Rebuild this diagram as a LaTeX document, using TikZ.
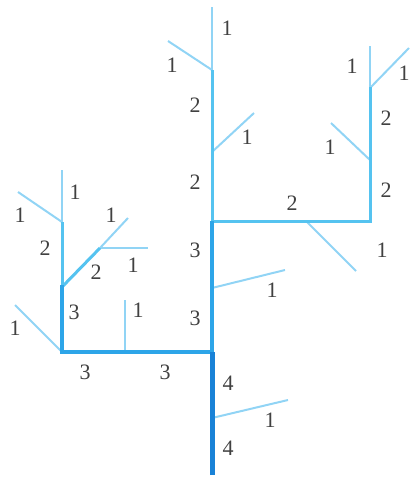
\documentclass[tikz,border=0pt]{standalone}
\usepackage{fontspec}
\setmainfont{Liberation Serif}
\begin{document}
\begin{tikzpicture}[x=1pt,y=-1pt,
  oa/.style={draw={rgb,255:red,145;green,212;blue,245},line width=2pt},
  ob/.style={draw={rgb,255:red,85;green,195;blue,240},line width=3pt},
  oc/.style={draw={rgb,255:red,45;green,165;blue,232},line width=3.8pt},
  od/.style={draw={rgb,255:red,25;green,130;blue,215},line width=5pt},
  lbl/.style={text={rgb,255:red,65;green,65;blue,65},font=\fontsize{22}{22}\selectfont,inner sep=0pt}]
\useasboundingbox (0,0) rectangle (411,480);
% coordinates
\coordinate (b0) at (212,475);
\coordinate (t1) at (212,418);
\coordinate (t2) at (212,352);
\coordinate (t3) at (212,288);
\coordinate (t4) at (212,221);
\coordinate (t5) at (212,152);
\coordinate (t6) at (212,70);
\coordinate (t7) at (212,7);
\coordinate (s1) at (288,400);
\coordinate (s3) at (285,270);
\coordinate (s5) at (254,113);
\coordinate (s6) at (168,41);
\coordinate (l0) at (62,352);
\coordinate (lm) at (125,352);
\coordinate (lmt) at (125,300);
\coordinate (lc) at (15,305);
\coordinate (l1) at (62,287);
\coordinate (l2) at (62,222);
\coordinate (l2t) at (62,170);
\coordinate (l2d) at (18,192);
\coordinate (ld) at (100,248);
\coordinate (ldt) at (128,218);
\coordinate (ldh) at (148,248);
\coordinate (r0) at (370,221);
\coordinate (rm) at (306,221);
\coordinate (rmd) at (356,271);
\coordinate (r1) at (370,160);
\coordinate (r1d) at (331,123);
\coordinate (r2) at (370,88);
\coordinate (r2t) at (370,46);
\coordinate (r2d) at (409,48);
% order 1
\draw[oa] (t1) -- (s1);
\draw[oa] (t3) -- (s3);
\draw[oa] (t5) -- (s5);
\draw[oa] (t6) -- (t7);
\draw[oa] (t6) -- (s6);
\draw[oa] (lm) -- (lmt);
\draw[oa] (l0) -- (lc);
\draw[oa] (l2) -- (l2t);
\draw[oa] (l2) -- (l2d);
\draw[oa] (ld) -- (ldt);
\draw[oa] (ld) -- (ldh);
\draw[oa] (rm) -- (rmd);
\draw[oa] (r1) -- (r1d);
\draw[oa] (r2) -- (r2t);
\draw[oa] (r2) -- (r2d);
% order 2
\draw[ob] (t4) -- (t6);
\draw[ob] (l1) -- (l2);
\draw[ob] (l1) -- (ld);
\draw[ob,line cap=rect] (t4) -- (r0) -- (r2);
% order 3
\draw[oc] (t2) -- (t4);
\draw[oc,line cap=rect] (t2) -- (l0) -- (l1);
% order 4
\draw[od] (b0) -- (t2);
% labels
\node[lbl] (n1) at (227,28) {1};
\node[lbl] (n2) at (172,65) {1};
\node[lbl] (n3) at (195,105) {2};
\node[lbl] (n4) at (247,137) {1};
\node[lbl] (n5) at (195,182) {2};
\node[lbl] (n6) at (195,250) {3};
\node[lbl] (n7) at (272,290) {1};
\node[lbl] (n8) at (195,318) {3};
\node[lbl] (n9) at (228,383) {4};
\node[lbl] (n10) at (270,420) {1};
\node[lbl] (n11) at (228,448) {4};
\node[lbl] (n12) at (75,192) {1};
\node[lbl] (n13) at (20,215) {1};
\node[lbl] (n14) at (45,248) {2};
\node[lbl] (n15) at (111,215) {1};
\node[lbl] (n16) at (96,272) {2};
\node[lbl] (n17) at (133,265) {1};
\node[lbl] (n18) at (74,312) {3};
\node[lbl] (n19) at (138,310) {1};
\node[lbl] (n20) at (15,328) {1};
\node[lbl] (n21) at (85,372) {3};
\node[lbl] (n22) at (165,372) {3};
\node[lbl] (n23) at (292,203) {2};
\node[lbl] (n24) at (382,250) {1};
\node[lbl] (n25) at (386,190) {2};
\node[lbl] (n26) at (330,147) {1};
\node[lbl] (n27) at (386,118) {2};
\node[lbl] (n28) at (352,66) {1};
\node[lbl] (n29) at (404,73) {1};
\end{tikzpicture}
\end{document}
